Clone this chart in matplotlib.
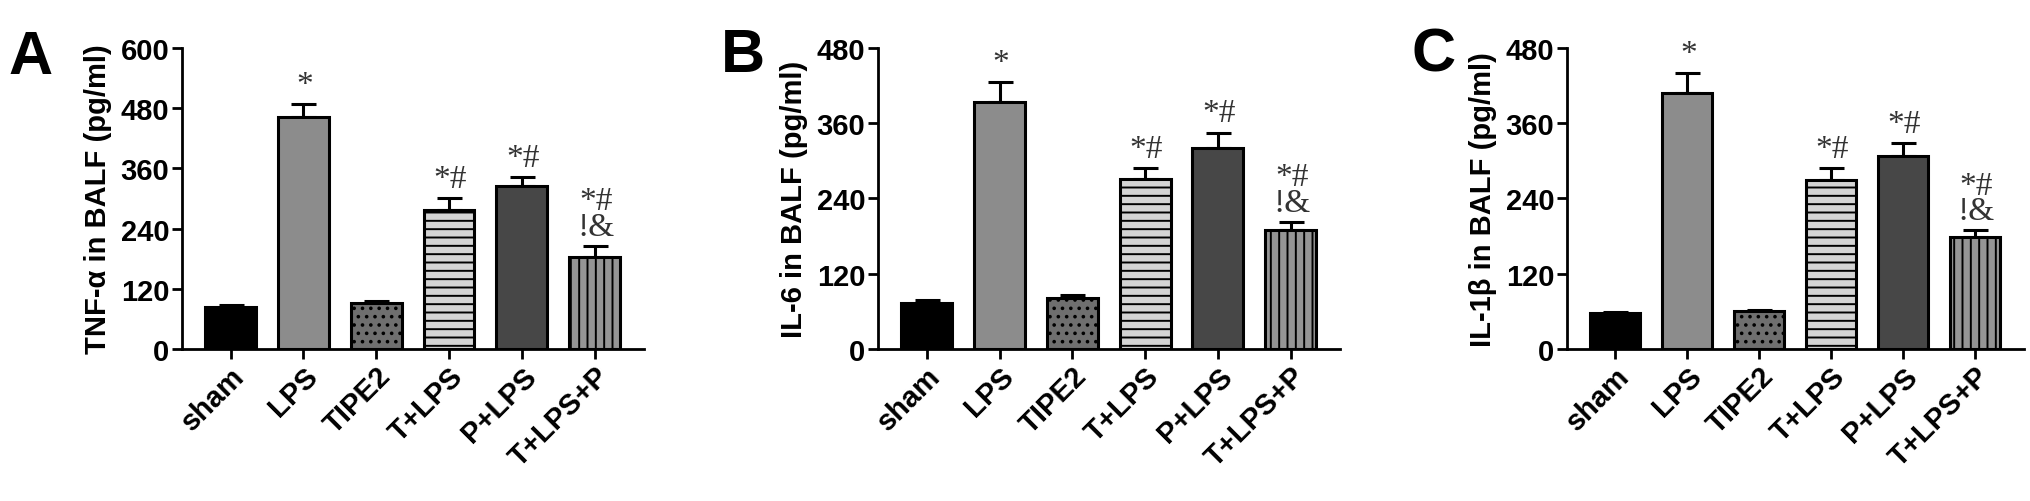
import numpy as np
import matplotlib
matplotlib.use("Agg")
import matplotlib.pyplot as plt

groups = ["sham", "LPS", "TIPE2", "T+LPS", "P+LPS", "T+LPS+P"]

tnf_mean = [84, 462, 92, 277, 324, 183]
tnf_err = [4, 27, 4, 23, 19, 22]
il6_mean = [74, 394, 81, 271, 321, 189]
il6_err = [4, 31, 5, 18, 24, 14]
il1b_mean = [57, 408, 60, 270, 308, 179]
il1b_err = [2, 32, 2, 18, 20, 10]

marks = ["", "*", "", "*#", "*#", "*#\n!&"]

panels = [
    ("A", "TNF-α in BALF (pg/ml)", tnf_mean, tnf_err, 600),
    ("B", "IL-6 in BALF (pg/ml)", il6_mean, il6_err, 480),
    ("C", "IL-1β in BALF (pg/ml)", il1b_mean, il1b_err, 480),
]

faces = ["#000000", "#8c8c8c", "#6f6f6f", "#d4d4d4", "#474747", "#959595"]
hatches = [None, None, "..", "--", None, "||"]

plt.rcParams["font.family"] = ["Liberation Sans", "DejaVu Sans"]
plt.rcParams["hatch.linewidth"] = 1.4

fig = plt.figure(figsize=(20.31, 5.02), dpi=100)
boxes = [
    (0.0896, 0.3028, 0.2275, 0.5996),
    (0.4323, 0.3028, 0.2275, 0.5996),
    (0.7715, 0.3028, 0.2250, 0.5996),
]
letter_xy = [(0.004, 0.94), (0.355, 0.945), (0.695, 0.945)]

x = np.arange(len(groups))
for (letter, ylabel, mean, err, ymax), box, lxy in zip(panels, boxes, letter_xy):
    ax = fig.add_axes(box)
    ax.bar(x, mean, width=0.7, color=faces, edgecolor="black", linewidth=2.2,
           hatch=hatches, zorder=2)
    ax.errorbar(x, mean, yerr=[np.zeros(len(err)), err], fmt="none", ecolor="black",
                elinewidth=2.2, capsize=9, capthick=2.2, zorder=1)
    for xi, m, e, t in zip(x, mean, err, marks):
        if t:
            ax.annotate(t, (xi, m + e), xytext=(1, 3), textcoords="offset points",
                        ha="center", va="bottom", fontsize=24, color="#333333",
                        family="Liberation Serif", linespacing=0.8)
    ax.set_xlim(-0.67, 5.68)
    ax.set_ylim(0, ymax)
    ax.set_yticks(np.arange(0, ymax + 1, 120))
    ax.set_xticks(x)
    ax.set_xticklabels(groups, rotation=45, ha="right", rotation_mode="anchor",
                       fontsize=21, fontweight="bold")
    for lab in ax.get_yticklabels():
        lab.set_fontsize(21)
        lab.set_fontweight("bold")
    ax.set_ylabel(ylabel, fontsize=21, fontweight="bold", labelpad=6)
    for s in ["top", "right"]:
        ax.spines[s].set_visible(False)
    for s in ["left", "bottom"]:
        ax.spines[s].set_linewidth(2.0)
    ax.tick_params(axis="both", width=2.0, length=7, pad=2)
    fig.text(lxy[0], lxy[1], letter, fontsize=44, fontweight="bold",
             va="top", ha="left")

fig.savefig("out.png", dpi=100)
